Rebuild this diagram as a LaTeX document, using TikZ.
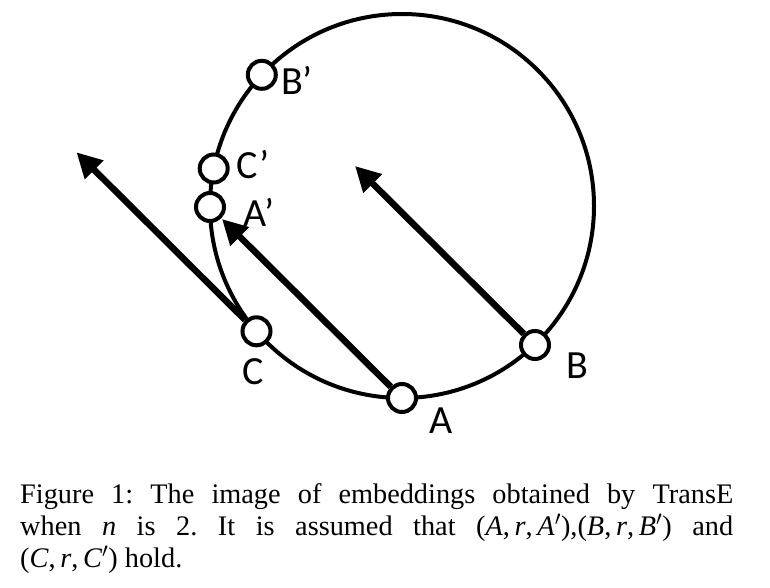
\documentclass[tikz,border=0pt]{standalone}
\usepackage{fontspec}
\setmainfont{Liberation Serif}
\newfontfamily\lblfont{Carlito}
\usetikzlibrary{arrows.meta}

\begin{document}
\begin{tikzpicture}[x=1pt, y=-1pt,
        point/.style={circle, draw, fill=white, line width=4pt, minimum size=28pt, inner sep=0pt},
        lbl/.style={font=\lblfont\fontsize{40}{40}\selectfont, inner sep=0pt},
        shift vec/.style={line width=6.5pt, -{Triangle[length=25pt, width=25pt]}},
    ]
    \useasboundingbox (0,0) rectangle (770,588);
	\draw[line width=4pt] (402,206) circle[radius=192pt];

	\node[point] (A) at (402,398) {};
	\node[point] (B) at (535,345) {};
	\node[point] (C) at (256.5,331.3) {};
	\node[point] (Ap) at (210,207) {};
	\node[point] (Cp) at (213.7,168.5) {};
	\node[point] (Bp) at (261.8,74.8) {};

	\coordinate (A_tip) at (222,219);
	\coordinate (B_tip) at (355,166);
	\coordinate (C_tip) at (76.5,152.3);

	\draw[shift vec] (A) -- (A_tip);
	\draw[shift vec] (B) -- (B_tip);
	\draw[shift vec] (C) -- (C_tip);

	\node[lbl] (lA) at (441,421) {A};
	\node[lbl] (lB) at (577,366) {B};
	\node[lbl] (lC) at (253,372) {C};
	\node[lbl] (lAp) at (259,212) {A’};
	\node[lbl] (lCp) at (253,165) {C’};
	\node[lbl] (lBp) at (297,80) {B’};

	\node[anchor=base west, inner sep=0pt, text width=713pt, align=justify,
	    font=\fontsize{28.3}{32}\selectfont\frenchspacing] (caption) at (20,503)
	    {Figure 1: The image of embeddings obtained by TransE\linebreak
	    when \textit{n} is 2. It is assumed that (\textit{A},\,\textit{r},\,\textit{A}$'$),(\textit{B},\,\textit{r},\,\textit{B}$'$) and\linebreak
	    (\textit{C},\,\textit{r},\,\textit{C}$'$) hold.};
\end{tikzpicture}
\end{document}
